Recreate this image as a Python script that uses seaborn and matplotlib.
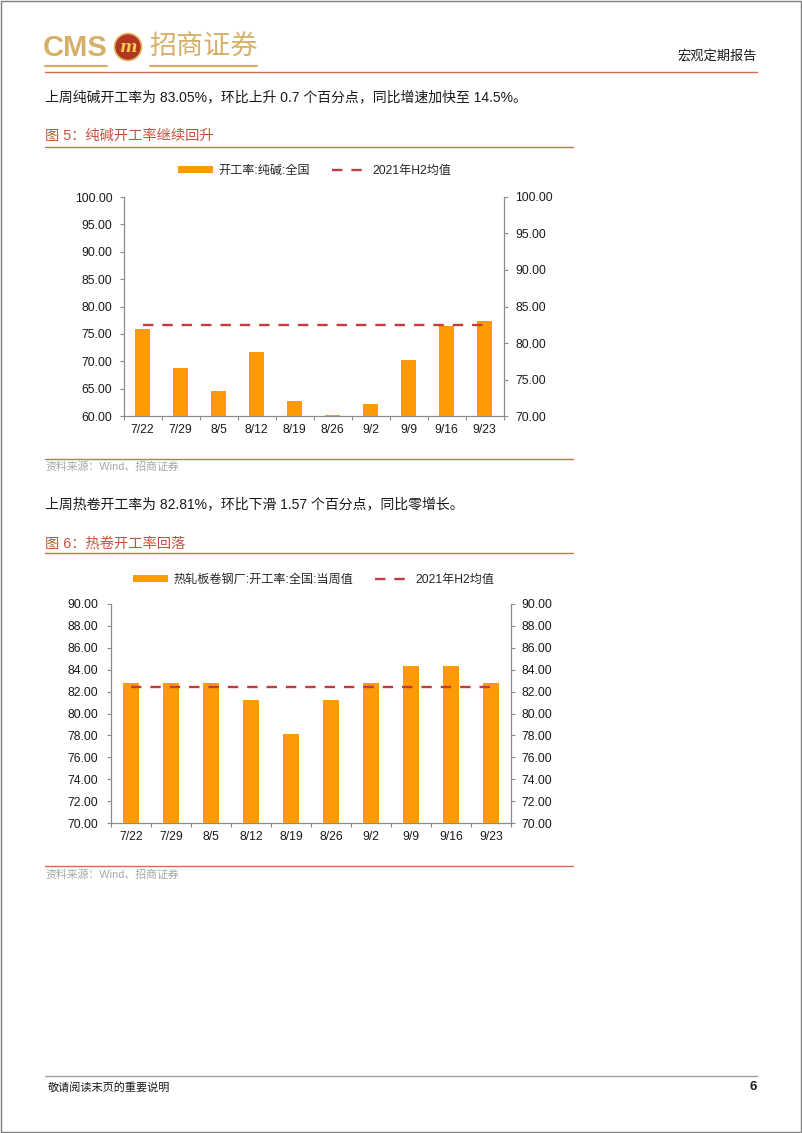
import numpy as np
import pandas as pd
import matplotlib
matplotlib.use("Agg")
import matplotlib.pyplot as plt
import seaborn as sns
from matplotlib.patches import Patch, Circle, Rectangle
from matplotlib.lines import Line2D
from matplotlib.ticker import FormatStrFormatter

# ---------------- data ----------------
dates = ["7/22", "7/29", "8/5", "8/12", "8/19", "8/26", "9/2", "9/9", "9/16", "9/23"]

soda_rate = [81.95, 76.52, 73.45, 78.78, 72.02, 70.18, 71.70, 77.63, 82.35, 83.05]
soda_h2_avg = [82.45, 82.45, 82.45, 82.45, 82.45, 82.45, 82.45, 82.45, 82.45, 82.45]
soda_left_ticks = [60, 65, 70, 75, 80, 85, 90, 95, 100]
soda_right_ticks = [70, 75, 80, 85, 90, 95, 100]

hrc_rate = [82.81, 82.81, 82.81, 81.25, 78.13, 81.25, 82.81, 84.38, 84.38, 82.81]
hrc_h2_avg = [82.40, 82.40, 82.40, 82.40, 82.40, 82.40, 82.40, 82.40, 82.40, 82.40]
hrc_ticks = [70, 72, 74, 76, 78, 80, 82, 84, 86, 88, 90]

soda_bar_label = "开工率:纯碱:全国"
hrc_bar_label = "热轧板卷钢厂:开工率:全国:当周值"
avg_label = "2021年H2均值"

# ---------------- style ----------------
sns.set_style("white")
plt.rcParams["font.family"] = ["Liberation Sans", "Noto Sans CJK SC", "DejaVu Sans"]
plt.rcParams["axes.unicode_minus"] = False

W, H = 802, 1133
ORANGE = "#FF9A05"
RED = "#C23B3E"
TITLE_RED = "#C5533F"
LINE_RED = "#D9694F"
GOLD = "#D6B06A"
GRAY = "#8C8C8C"
TXT = "#1A1A1A"
DASH = (4.4, 3.8)

fig = plt.figure(figsize=(W / 100, H / 100), dpi=100)
fig.patch.set_facecolor("white")

# overlay for page decorations in pixel coordinates
bg = fig.add_axes([0, 0, 1, 1])
bg.set_xlim(0, W)
bg.set_ylim(H, 0)
bg.axis("off")
bg.patch.set_visible(False)


def rect_px(left, top, right, bottom):
    return [left / W, 1 - bottom / H, (right - left) / W, (bottom - top) / H]


# page border
bg.add_patch(Rectangle((0.5, 0.5), W - 1.5, H - 1.5, fill=False, edgecolor="#7F7F7F", lw=1.0))

# header logo
bg.text(43, 48, "CMS", fontsize=21, fontweight="bold", color=GOLD, ha="left", va="center",
        family=["Liberation Sans"])
bg.add_patch(Circle((128, 47), 13.5, facecolor="#B3361E", edgecolor="#E0B868", lw=1.2))
bg.text(128, 47.5, "m", fontsize=12, fontweight="bold", fontstyle="italic", color="#F5C85A",
        ha="center", va="center", family=["DejaVu Serif"])
bg.text(149, 47, "招商证券", fontsize=19.5, color=GOLD, ha="left", va="center",
        family=["Noto Sans CJK SC"])
bg.plot([45, 107], [66, 66], color=GOLD, lw=1.6)
bg.plot([150, 257], [66, 66], color=GOLD, lw=1.6)
bg.text(757, 56, "宏观定期报告", fontsize=9.5, color=TXT, ha="right", va="center")
bg.plot([45, 757], [72, 72], color=LINE_RED, lw=1.0)

# paragraph 1 + fig 5 title
bg.text(45, 97, "上周纯碱开工率为 83.05%，环比上升 0.7 个百分点，同比增速加快至 14.5%。",
        fontsize=10, color=TXT, ha="left", va="center")
bg.text(45, 136, "图 5：纯碱开工率继续回升", fontsize=10.3, color=TITLE_RED, ha="left", va="center")
bg.plot([45, 573], [147, 147], color=LINE_RED, lw=1.0)
bg.plot([45, 573], [459, 459], color=LINE_RED, lw=1.0)
bg.text(45, 467, "资料来源：Wind、招商证券", fontsize=7.8, color="#A6A6A6", ha="left", va="center")

# paragraph 2 + fig 6 title
bg.text(45, 504, "上周热卷开工率为 82.81%，环比下滑 1.57 个百分点，同比零增长。",
        fontsize=10, color=TXT, ha="left", va="center")
bg.text(45, 543, "图 6：热卷开工率回落", fontsize=10.3, color=TITLE_RED, ha="left", va="center")
bg.plot([45, 573], [553, 553], color=LINE_RED, lw=1.0)
bg.plot([45, 573], [866, 866], color=LINE_RED, lw=1.0)
bg.text(45, 875, "资料来源：Wind、招商证券", fontsize=7.8, color="#A6A6A6", ha="left", va="center")

# footer
bg.plot([45, 757], [1076, 1076], color="#A0A0A0", lw=1.0)
bg.text(48, 1087, "敬请阅读末页的重要说明", fontsize=8, color=TXT, ha="left", va="center")
bg.text(757, 1087, "6", fontsize=9.5, fontweight="bold", color=TXT, ha="right", va="center")


def draw_chart(rect, values, avg, left_lim, left_ticks, right_lim, right_ticks,
               bar_width, bar_label, legend_center, lpad, rpad):
    ax = fig.add_axes(rect)
    ax2 = ax.twinx()
    df = pd.DataFrame({"date": dates, "value": values})
    sns.barplot(data=df, x="date", y="value", ax=ax2, color=ORANGE, saturation=1,
                width=bar_width, edgecolor="none", linewidth=0)
    ax2.plot(np.arange(len(dates)), avg, color=RED, lw=1.7, dashes=DASH, zorder=5)

    ax.set_xlim(-0.5, len(dates) - 0.5)
    ax.set_ylim(*left_lim)
    ax2.set_ylim(*right_lim)
    ax.set_yticks(left_ticks)
    ax2.set_yticks(right_ticks)
    ax.yaxis.set_major_formatter(FormatStrFormatter("%.2f"))
    ax2.yaxis.set_major_formatter(FormatStrFormatter("%.2f"))
    ax.set_xticks(np.arange(len(dates)))
    ax.set_xticklabels(dates)
    ax.set_xticks(np.arange(-0.5, len(dates), 1.0), minor=True)
    for a in (ax, ax2):
        a.set_xlabel("")
        a.set_ylabel("")
        a.grid(False)
        for s in a.spines.values():
            s.set_visible(False)
    ax.spines["left"].set_visible(True)
    ax.spines["bottom"].set_visible(True)
    ax2.spines["right"].set_visible(True)
    for s in (ax.spines["left"], ax.spines["bottom"], ax2.spines["right"]):
        s.set_color(GRAY)
        s.set_linewidth(0.9)

    ax.tick_params(axis="y", which="major", direction="out", length=3, width=0.8, color=GRAY,
                   pad=lpad, labelsize=8.7, labelcolor=TXT, left=True)
    ax2.tick_params(axis="y", which="major", direction="out", length=3, width=0.8, color=GRAY,
                    pad=rpad, labelsize=8.7, labelcolor=TXT, right=True)
    ax.tick_params(axis="x", which="major", length=0, pad=5.5, labelsize=8.7, labelcolor=TXT)
    ax.tick_params(axis="x", which="minor", direction="out", length=3, width=0.8, color=GRAY,
                   bottom=True)

    handles = [Patch(facecolor=ORANGE, edgecolor="none"),
               Line2D([0], [0], color=RED, lw=1.7, dashes=DASH)]
    fig.legend(handles, [bar_label, avg_label], loc="center",
               bbox_to_anchor=(legend_center[0] / W, 1 - legend_center[1] / H),
               ncol=2, frameon=False, fontsize=8.7, handlelength=2.9, handleheight=0.55,
               handletextpad=0.45, columnspacing=1.8, borderpad=0, borderaxespad=0,
               labelcolor="#262626")
    return ax, ax2


draw_chart(rect_px(123.5, 197, 503.5, 416), soda_rate, soda_h2_avg,
           (60, 100), soda_left_ticks, (70, 100), soda_right_ticks,
           0.41, soda_bar_label, (314.5, 171), 5.0, 5.5)

draw_chart(rect_px(111, 604, 511, 823), hrc_rate, hrc_h2_avg,
           (70, 90), hrc_ticks, (70, 90), hrc_ticks,
           0.39, hrc_bar_label, (314, 580), 6.5, 4.5)

fig.savefig("out.png", dpi=100, facecolor="white")
